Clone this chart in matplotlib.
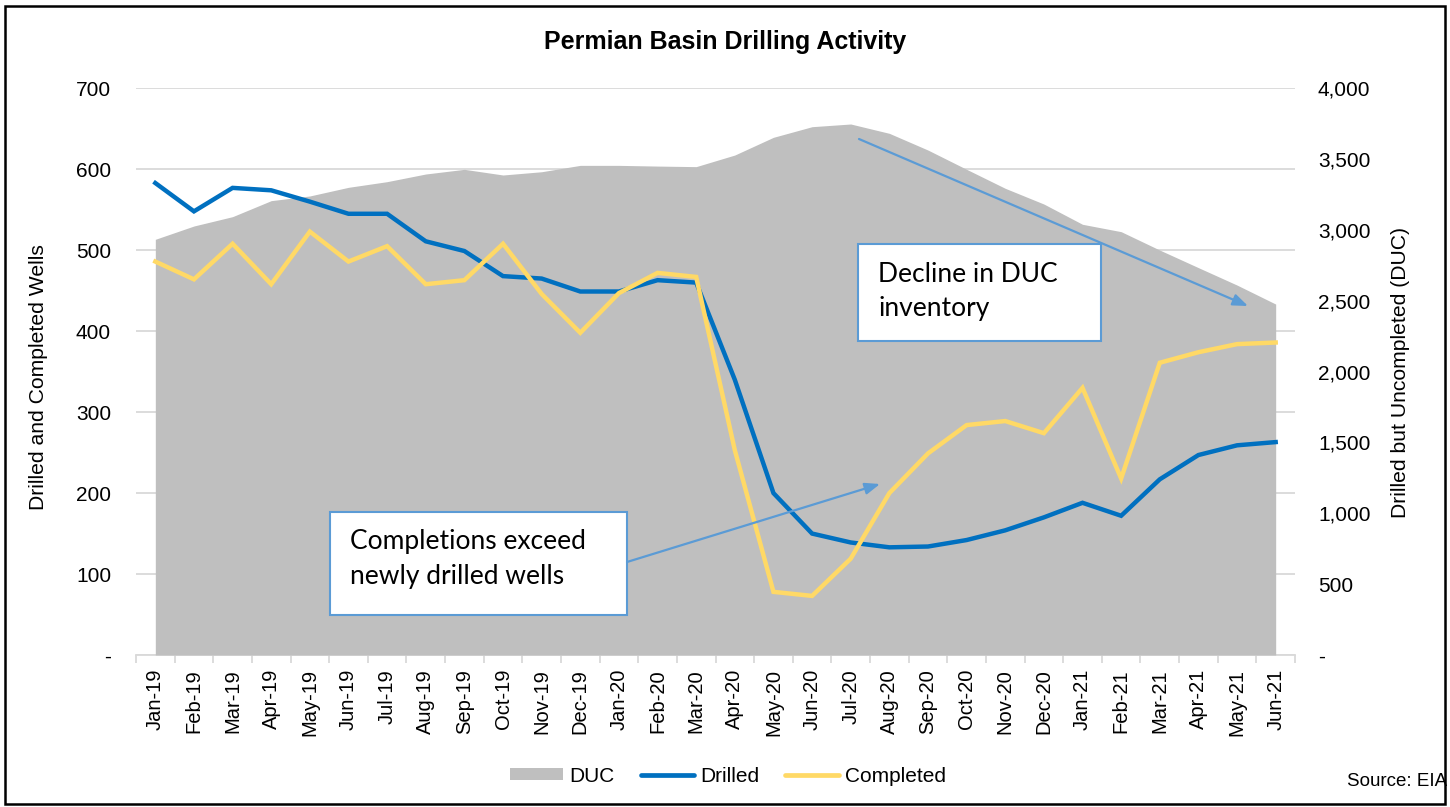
import matplotlib
matplotlib.use("Agg")
import matplotlib.pyplot as plt
import matplotlib.patches as mpatches
from matplotlib.lines import Line2D
from matplotlib.ticker import FuncFormatter, FixedLocator, MultipleLocator

months = ["Jan-19", "Feb-19", "Mar-19", "Apr-19", "May-19", "Jun-19", "Jul-19", "Aug-19",
          "Sep-19", "Oct-19", "Nov-19", "Dec-19", "Jan-20", "Feb-20", "Mar-20", "Apr-20",
          "May-20", "Jun-20", "Jul-20", "Aug-20", "Sep-20", "Oct-20", "Nov-20", "Dec-20",
          "Jan-21", "Feb-21", "Mar-21", "Apr-21", "May-21", "Jun-21"]

duc = [2934, 3028, 3094, 3207, 3240, 3301, 3341, 3395, 3428, 3388, 3411, 3456, 3456, 3451,
       3447, 3529, 3654, 3729, 3748, 3682, 3564, 3428, 3294, 3183, 3040, 2988, 2858, 2734,
       2611, 2477]

drilled = [583, 548, 577, 574, 560, 545, 545, 511, 499, 468, 465, 449, 449, 463, 460, 340,
           200, 150, 139, 133, 134, 142, 154, 170, 188, 172, 217, 247, 259, 263]

completed = [486, 464, 508, 458, 523, 486, 505, 458, 463, 508, 446, 398, 447, 472, 467, 253,
             78, 73, 119, 200, 249, 284, 289, 274, 330, 218, 361, 374, 384, 386]

FONT = "Liberation Sans"
plt.rcParams["font.family"] = [FONT, "DejaVu Sans"]

W, H = 1450, 807
fig = plt.figure(figsize=(W / 100, H / 100), dpi=100)

L, R, T, B = 136, 1295, 88.3, 655
rect = [L / W, 1 - B / H, (R - L) / W, (B - T) / H]

ax = fig.add_axes(rect)            # grid + left axis
ax2 = ax.twinx()                   # DUC area, right axis
ax3 = fig.add_axes(rect, sharex=ax, sharey=ax)  # lines on top

x = list(range(len(months)))

# Bottom axis: grid and left ticks
ax.set_xlim(-0.5, len(months) - 0.5)
ax.set_ylim(0, 700)
ax.yaxis.set_major_locator(MultipleLocator(100))
ax.grid(axis="y", color="#d9d9d9", linewidth=1.3)
ax.set_axisbelow(True)
ax.yaxis.set_major_formatter(FuncFormatter(lambda v, p: "-" if v == 0 else f"{int(v):,}"))
ax.tick_params(axis="y", length=0, pad=18, labelsize=15, labelcolor="#000000")
ax.set_xticks(x)
ax.set_xticklabels(months, rotation=90, fontsize=14.5)
ax.tick_params(axis="x", which="major", length=0, pad=10)
ax.xaxis.set_minor_locator(FixedLocator([i - 0.5 for i in range(len(months) + 1)]))
ax.tick_params(axis="x", which="minor", length=6, color="#d9d9d9", width=1.3)
for s in ["top", "left", "right"]:
    ax.spines[s].set_visible(False)
ax.spines["bottom"].set_color("#d9d9d9")
ax.spines["bottom"].set_linewidth(1.3)

# DUC area on right axis
ax2.fill_between(x, duc, 0, color="#bfbfbf", linewidth=0)
ax2.set_ylim(0, 4000)
ax2.yaxis.set_major_locator(MultipleLocator(500))
ax2.yaxis.set_major_formatter(FuncFormatter(lambda v, p: "-" if v == 0 else f"{int(v):,}"))
ax2.tick_params(axis="y", length=0, pad=16.5, labelsize=15)
for s in ["top", "left", "right", "bottom"]:
    ax2.spines[s].set_visible(False)

# Lines on top
ax3.patch.set_visible(False)
for s in ax3.spines.values():
    s.set_visible(False)
ax3.tick_params(left=False, labelleft=False, bottom=False, labelbottom=False, which="both")
ax3.plot(x, drilled, color="#0070c0", linewidth=3.2, solid_joinstyle="miter", zorder=3)
ax3.plot(x, completed, color="#ffd966", linewidth=3.2, solid_joinstyle="miter", zorder=3)

BOXC = "#5b9bd5"


def px(xp, yp):
    return ((xp - L) / (R - L), (B - yp) / (B - T))


def box(xl, yt, xr, yb, lines):
    (x0, y0), (x1, y1) = px(xl, yb), px(xr, yt)
    ax3.add_patch(mpatches.Rectangle((x0, y0), x1 - x0, y1 - y0, transform=ax3.transAxes,
                                     facecolor="white", edgecolor=BOXC, linewidth=1.5,
                                     zorder=5, clip_on=False))
    for i, line in enumerate(lines):
        tx, ty = px(xl + 20.5, yt + 37.5 + 34.5 * i)
        ax3.text(tx, ty, line, transform=ax3.transAxes, ha="left", va="baseline",
                 fontsize=19, family=["Lato", "DejaVu Sans"], zorder=6)


box(330, 511.7, 627, 615, ["Completions exceed", "newly drilled wells"])
box(858, 244, 1101, 341, ["Decline in DUC", "inventory"])

arrow_kw = dict(arrowstyle="-|>,head_length=0.9,head_width=0.35", color=BOXC, lw=1.6,
                shrinkA=0, shrinkB=0)
ax3.annotate("", xy=px(880, 484), xytext=px(627, 562), xycoords="axes fraction",
             textcoords="axes fraction", arrowprops=arrow_kw, zorder=6)
ax3.annotate("", xy=px(1248, 306), xytext=px(859, 139), xycoords="axes fraction",
             textcoords="axes fraction", arrowprops=arrow_kw, zorder=6)

# Titles and labels
fig.text(725 / W, 1 - 42.5 / H, "Permian Basin Drilling Activity", ha="center", va="center",
         fontsize=18, fontweight="bold")
fig.text(39 / W, 1 - 377 / H, "Drilled and Completed Wells", rotation=90, ha="center",
         va="center", fontsize=15.2)
fig.text(1401 / W, 1 - 373 / H, "Drilled but Uncompleted (DUC)", rotation=90, ha="center",
         va="center", fontsize=15.2)
fig.text(1347 / W, 1 - 781 / H, "Source: EIA", ha="left", va="center", fontsize=13.5)

# Legend
handles = [mpatches.Patch(facecolor="#bfbfbf", edgecolor="none"),
           Line2D([0], [0], color="#0070c0", linewidth=3.4, solid_capstyle="round"),
           Line2D([0], [0], color="#ffd966", linewidth=3.4, solid_capstyle="round")]
fig.legend(handles, ["DUC", "Drilled", "Completed"], loc="center", ncol=3,
           bbox_to_anchor=(728 / W, 1 - 776 / H), frameon=False, fontsize=15,
           handlelength=2.55, handleheight=0.52, columnspacing=1.25, handletextpad=0.3)

# Border
fig.add_artist(mpatches.Rectangle((4.5 / W, 3 / H), 1440 / W, 798 / H, transform=fig.transFigure,
                                  fill=False, edgecolor="black", linewidth=1.8))

fig.savefig("out.png", dpi=100)
